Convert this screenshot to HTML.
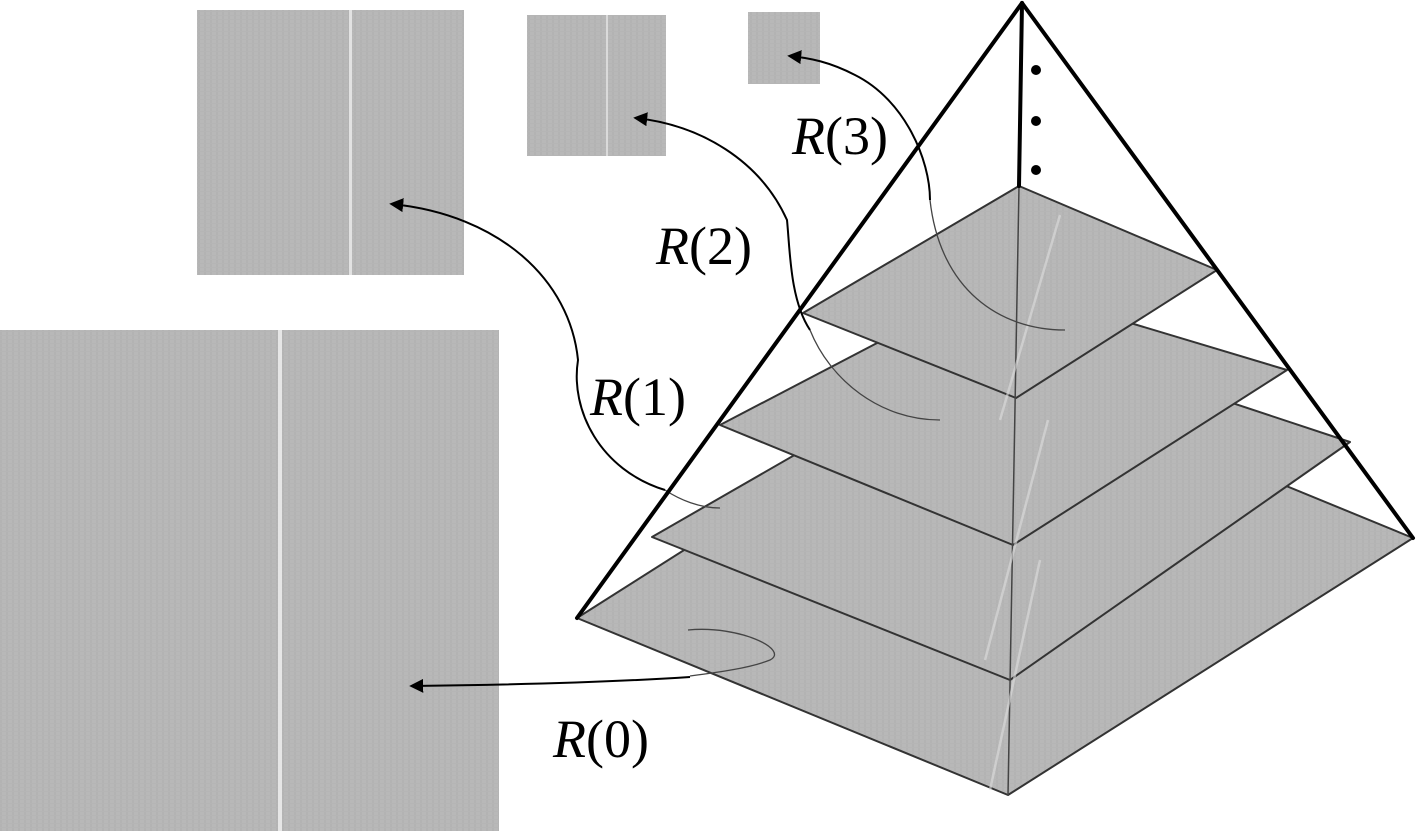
<!DOCTYPE html>
<html><head><meta charset="utf-8"><style>
html,body{margin:0;padding:0;background:#fff;}
svg{display:block;}
text{font-family:"Liberation Serif",serif;font-size:54px;fill:#000;}
</style></head><body>
<svg width="1417" height="831" viewBox="0 0 1417 831" xmlns="http://www.w3.org/2000/svg">
<defs>
<pattern id="tex" width="6" height="4" patternUnits="userSpaceOnUse">
<rect width="6" height="4" fill="#b8b8b8"/>
<rect x="0" width="2" height="4" fill="#b3b3b3"/>
<rect y="3" width="6" height="1" fill="#b5b5b5"/>
</pattern>
<marker id="ar" viewBox="0 0 10 10" refX="8" refY="5" markerWidth="7" markerHeight="7" orient="auto">
<path d="M10,5 L0,0 L0,10 Z" fill="#000"/>
</marker>
</defs>

<rect x="0" y="330" width="499" height="501" fill="url(#tex)"/>
<rect x="278" y="330" width="4" height="501" fill="#e6e6e6"/>
<rect x="197" y="10" width="267" height="265" fill="url(#tex)"/>
<rect x="349" y="10" width="3" height="265" fill="#e2e2e2"/>
<rect x="527" y="15" width="139" height="141" fill="url(#tex)"/>
<rect x="606" y="15" width="2" height="141" fill="#dadada"/>
<rect x="748" y="12" width="72" height="72" fill="url(#tex)"/>

<g stroke="#333" stroke-width="2" fill="url(#tex)" stroke-linejoin="round">
<polygon points="577,618 982,361 1413,538 1008,795"/>
<polygon points="652,537 1012,330 1350,442 1010,680"/>
<polygon points="720,425 994,282 1287,370 1013,545"/>
<polygon points="803,313 1019,186 1217,270 1016,398"/>
</g>
<line x1="1019" y1="186" x2="1008" y2="795" stroke="#444" stroke-width="1.5"/>
<path d="M1060,215 L1000,420 M1048,420 L985,660 M1040,560 L990,790" stroke="#dedede" stroke-width="2.5" fill="none" opacity="0.6"/>

<g fill="none" stroke="#444" stroke-width="1.3">
<path d="M930,200 C940,290 1000,330 1065,330"/>
<path d="M810,330 C830,380 880,420 940,420"/>
<path d="M665,490 C680,500 700,508 720,508"/>
<path d="M688,630 C740,625 790,650 770,660 C750,668 720,672 690,676"/>
</g>

<g stroke="#000" stroke-width="4" fill="none" stroke-linecap="round">
<line x1="1022" y1="3" x2="577" y2="618"/>
<line x1="1022" y1="3" x2="1413" y2="538"/>
<line x1="1022" y1="3" x2="1019" y2="186"/>
</g>
<circle cx="1036" cy="70" r="5" fill="#000"/>
<circle cx="1036" cy="121" r="5" fill="#000"/>
<circle cx="1036" cy="170" r="5" fill="#000"/>

<g fill="none" stroke="#000" stroke-width="2">
<path d="M690,677 C600,683 500,685 412,686" marker-end="url(#ar)"/>
<path d="M665,490 C600,470 570,410 578,360 C570,280 500,215 392,204" marker-end="url(#ar)"/>
<path d="M810,330 C790,300 790,250 787,220 C760,160 700,125 636,118" marker-end="url(#ar)"/>
<path d="M930,200 C930,160 905,100 855,75 C830,62 810,58 790,56" marker-end="url(#ar)"/>
</g>

<text x="553" y="757"><tspan font-style="italic">R</tspan>(0)</text>
<text x="590" y="415"><tspan font-style="italic">R</tspan>(1)</text>
<text x="656" y="264"><tspan font-style="italic">R</tspan>(2)</text>
<text x="792" y="154"><tspan font-style="italic">R</tspan>(3)</text>
</svg>
</body></html>
